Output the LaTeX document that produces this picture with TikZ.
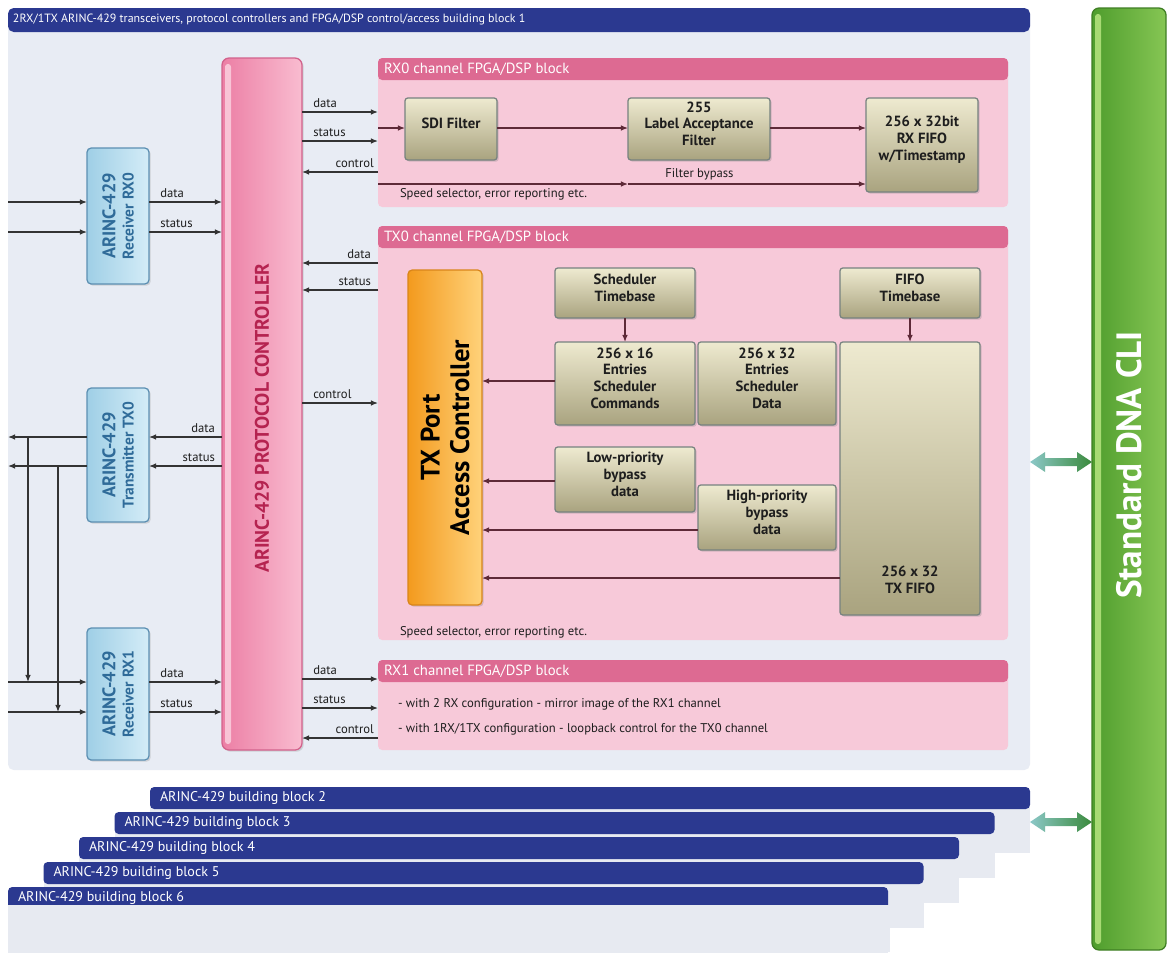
\documentclass[tikz,border=0pt]{standalone}
\usepackage{fontspec}
\setmainfont{PT Sans}
\usetikzlibrary{arrows.meta, positioning, fit, shadows, calc}
\definecolor{navy}{HTML}{2B3990}
\definecolor{paleblue}{HTML}{E8ECF4}
\definecolor{cardcol}{HTML}{E7EAF1}
\definecolor{pcdark}{HTML}{EC7FA5}
\definecolor{pclight}{HTML}{F9BCD0}
\definecolor{pcstrip}{HTML}{F8C4D6}
\definecolor{pcedge}{HTML}{D2628C}
\definecolor{pctext}{HTML}{B52350}
\definecolor{blkpink}{HTML}{F7C9D9}
\definecolor{blkhead}{HTML}{DD6A92}
\definecolor{rxblue}{HTML}{9FCFE6}
\definecolor{rxlight}{HTML}{D4ECF7}
\definecolor{rxedge}{HTML}{5C8FB2}
\definecolor{rxtext}{HTML}{2F6B99}
\definecolor{olivetop}{HTML}{EEEAD0}
\definecolor{olivebot}{HTML}{A9A37F}
\definecolor{oliveedge}{HTML}{76827F}
\definecolor{txorange}{HTML}{F39A1E}
\definecolor{txlight}{HTML}{FFD27A}
\definecolor{txedge}{HTML}{D9851A}
\definecolor{clidark}{HTML}{4F9D2D}
\definecolor{clilight}{HTML}{86C654}
\definecolor{clistrip}{HTML}{A8DA74}
\definecolor{cliedge}{HTML}{3F7F24}
\definecolor{dblteal}{HTML}{8CC8C8}
\definecolor{dblgreen}{HTML}{3A8A3C}
\definecolor{wirecol}{HTML}{333333}
\definecolor{wirered}{HTML}{5E2A38}
\definecolor{darktext}{HTML}{1E1E1E}

\begin{document}
\begin{tikzpicture}[
    x=0.025cm, y=-0.025cm,
    every node/.style={inner sep=0pt, outer sep=0pt},
    lbl/.style={font=\fontsize{9}{10}\selectfont, text=darktext},
    hdr/.style={font=\fontsize{8.5}{10}\selectfont, text=white, anchor=west},
    chanhdr/.style={font=\fontsize{10.5}{12}\selectfont, text=white, anchor=west},
    wire/.style={-{Latex[length=5pt,width=4pt]}, line width=0.9pt, draw=wirecol},
    rwire/.style={wire, draw=wirered},
    chan/.style={fill=blkpink, rounded corners=3pt},
    olive/.style={draw=oliveedge, line width=0.9pt, rounded corners=2pt,
        top color=olivetop, bottom color=olivebot, align=center, text=darktext,
        font=\bfseries\fontsize{10.5}{12}\selectfont,
        drop shadow={shadow xshift=1.2pt, shadow yshift=-1.2pt, opacity=0.3}},
    rxbox/.style={draw=rxedge, line width=0.9pt, rounded corners=3pt,
        left color=rxblue, right color=rxlight,
        drop shadow={shadow xshift=1.2pt, shadow yshift=-1.2pt, opacity=0.25}},
    rxtxt/.style={rotate=90, align=center, text=rxtext, font=\bfseries\fontsize{11}{13}\selectfont},
    bbtext/.style={font=\fontsize{10}{12}\selectfont, text=white, anchor=west},
    link/.style={left color=dblteal, right color=dblgreen}
]
\useasboundingbox[fill=white] (0,0) rectangle (1170,954);

% building blocks 2..6 behind
\foreach \n in {2,...,6}{
  \pgfmathsetmacro\dx{(\n-2)*35.5}
  \pgfmathsetmacro\dy{(\n-2)*25}
  \fill[cardcol] (150-\dx,805+\dy) rectangle (1030-\dx,853+\dy);
  \node[fit={(150-\dx,787+\dy)(1030-\dx,809+\dy)}, fill=navy, rounded corners=3pt] (bb\n) {};
  \node[bbtext] at ([xshift=0.25cm]bb\n.west) {ARINC-429 building block \n};
}
\fill[cardcol] (8,905) rectangle (890,952);

% building block 1
\node[fit={(8,8)(1030,770)}, fill=paleblue, rounded corners=4pt] (blk1) {};
\fill[navy, rounded corners=4pt] (8,8) rectangle (1030,32);
\node[hdr] at (13,20) {2RX/1TX ARINC-429 transceivers, protocol controllers and FPGA/DSP control/access building block 1};

% protocol controller
\node[fit={(222,58)(302,750)}, draw=pcedge, line width=0.9pt, rounded corners=5pt,
      left color=pcdark, right color=pclight,
      drop shadow={shadow xshift=1.2pt, shadow yshift=-1.2pt, opacity=0.25}] (pc) {};
\fill[pcstrip, rounded corners=2pt] (225,64) rectangle (231,744);
\node[rotate=90, text=pctext, font=\bfseries\fontsize{14}{16}\selectfont] at (262,418) {ARINC-429 PROTOCOL CONTROLLER};

% transceivers
\node[rxbox, fit={(87,148)(149,284)}] (rxa) {};
\node[rxtxt] at (rxa.center) {\fontsize{13}{14}\selectfont ARINC-429\\Receiver RX0};
\node[rxbox, fit={(87,388)(149,522)}] (txa) {};
\node[rxtxt] at (txa.center) {\fontsize{13}{14}\selectfont ARINC-429\\Transmitter TX0};
\node[rxbox, fit={(87,628)(149,760)}] (rxb) {};
\node[rxtxt] at (rxb.center) {\fontsize{13}{14}\selectfont ARINC-429\\Receiver RX1};

\coordinate (ina) at (8,202);
\coordinate (inb) at (8,232);
\coordinate (outa) at (8,437);
\coordinate (outb) at (8,466);
\coordinate (inc) at (8,682);
\coordinate (ind) at (8,712);
\coordinate (tapa) at (28,437);
\coordinate (tapb) at (58,466);

\draw[wire] (ina) -- (rxa.west |- ina);
\draw[wire] (inb) -- (rxa.west |- inb);
\draw[wire] (rxa.east |- ina) node[lbl, above right=3pt and 8pt] {data} -- (pc.west |- ina);
\draw[wire] (rxa.east |- inb) node[lbl, above right=3pt and 8pt] {status} -- (pc.west |- inb);

\draw[wire] (pc.west |- outa) node[lbl, above left=3pt and 5pt] {data} -- (txa.east |- outa);
\draw[wire] (pc.west |- outb) node[lbl, above left=3pt and 5pt] {status} -- (txa.east |- outb);
\draw[wire] (txa.west |- outa) -- (outa);
\draw[wire] (txa.west |- outb) -- (outb);
\draw[wire] (tapa) -- (tapa |- inc);
\draw[wire] (tapb) -- (tapb |- ind);

\draw[wire] (inc) -- (rxb.west |- inc);
\draw[wire] (ind) -- (rxb.west |- ind);
\draw[wire] (rxb.east |- inc) node[lbl, above right=3pt and 8pt] {data} -- (pc.west |- inc);
\draw[wire] (rxb.east |- ind) node[lbl, above right=3pt and 8pt] {status} -- (pc.west |- ind);

% RX0 channel block
\node[chan, fit={(378,58)(1008,207)}] (rxzero) {};
\fill[blkhead, rounded corners=3pt] (378,58) rectangle (1008,80);
\node[chanhdr] at (384,69) {RX0 channel FPGA/DSP block};
\node[olive, fit={(405,98)(497,160)}] (sdi) {SDI Filter};
\node[olive, fit={(628,98)(770,160)}] (laf) {255\\Label Acceptance\\Filter};
\node[olive, fit={(866,98)(978,192)}] (rxfifo) {256 x 32bit\\RX FIFO\\w/Timestamp};

\draw[wire] (pc.east |- 0,112) node[lbl, above right=3pt and 8pt] {data} -- (rxzero.west |- 0,112);
\draw[wire] (pc.east |- 0,141) node[lbl, above right=3pt and 8pt] {status} -- (rxzero.west |- 0,141);
\draw[wire] (rxzero.west |- 0,172) node[lbl, above left=3pt and 3pt] {control} -- (pc.east |- 0,172);
\draw[rwire] (rxzero.west |- 0,128) -- (sdi.west |- 0,128);
\draw[rwire] (sdi.east |- 0,128) -- (laf.west |- 0,128);
\draw[rwire] (laf.east |- 0,128) -- (rxfifo.west |- 0,128);
\draw[rwire] (rxzero.west |- 0,184) -- (laf.west |- 0,184);
\draw[rwire] (laf.west |- 0,184) -- node[lbl, above=3pt, pos=0.3] {Filter bypass} (rxfifo.west |- 0,184);
\node[lbl, anchor=north west] at (400,188) {Speed selector, error reporting etc.};

% TX0 channel block
\node[chan, fit={(378,226)(1008,640)}] (txzero) {};
\fill[blkhead, rounded corners=3pt] (378,226) rectangle (1008,248);
\node[chanhdr] at (384,237) {TX0 channel FPGA/DSP block};
\node[fit={(408,270)(482,605)}, draw=txedge, line width=0.9pt, rounded corners=3pt,
      left color=txorange, right color=txlight,
      drop shadow={shadow xshift=1.2pt, shadow yshift=-1.2pt, opacity=0.3}] (txpac) {};
\node[rotate=90, align=center, text=black, font=\bfseries\fontsize{19}{21}\selectfont] at (txpac.center) {TX Port\\Access Controller};
\node[olive, fit={(555,268)(695,318)}] (schtb) {Scheduler\\Timebase};
\node[olive, fit={(840,268)(980,318)}] (fifotb) {FIFO\\Timebase};
\node[olive, fit={(555,342)(695,425)}] (schcmd) {256 x 16\\Entries\\Scheduler\\Commands};
\node[olive, fit={(698,342)(836,425)}] (schdat) {256 x 32\\Entries\\Scheduler\\Data};
\node[olive, fit={(840,342)(980,615)}] (txfifo) {};
\node[align=center, text=darktext, font=\bfseries\fontsize{10.5}{12}\selectfont] at (910,580) {256 x 32\\TX FIFO};
\node[olive, fit={(555,447)(695,512)}] (lowp) {Low-priority\\bypass\\data};
\node[olive, fit={(698,485)(836,550)}] (highp) {High-priority\\bypass\\data};

\draw[wire] (txzero.west |- 0,263) node[lbl, above left=3pt and 5pt] {data} -- (pc.east |- 0,263);
\draw[wire] (txzero.west |- 0,290) node[lbl, above left=3pt and 5pt] {status} -- (pc.east |- 0,290);
\draw[wire] (pc.east |- 0,403) node[lbl, above right=3pt and 8pt] {control} -- (txzero.west |- 0,403);
\draw[rwire] (schtb) -- (schcmd);
\draw[rwire] (fifotb) -- (txfifo.north -| fifotb);
\draw[rwire] (schcmd.west |- 0,381) -- (txpac.east |- 0,381);
\draw[rwire] (lowp.west |- 0,481) -- (txpac.east |- 0,481);
\draw[rwire] (highp.west |- 0,530) -- (txpac.east |- 0,530);
\draw[rwire] (txfifo.west |- 0,578) -- (txpac.east |- 0,578);
\node[lbl, anchor=west] at (400,632) {Speed selector, error reporting etc.};

% RX1 channel block
\node[chan, fit={(378,660)(1008,750)}] (rxone) {};
\fill[blkhead, rounded corners=3pt] (378,660) rectangle (1008,682);
\node[chanhdr] at (384,671) {RX1 channel FPGA/DSP block};
\node[lbl, anchor=west] at (398,704) {- with 2 RX configuration - mirror image of the RX1 channel};
\node[lbl, anchor=west] at (398,729) {- with 1RX/1TX configuration - loopback control for the TX0 channel};
\draw[wire] (pc.east |- 0,679) node[lbl, above right=3pt and 8pt] {data} -- (rxone.west |- 0,679);
\draw[wire] (pc.east |- 0,708) node[lbl, above right=3pt and 8pt] {status} -- (rxone.west |- 0,708);
\draw[wire] (rxone.west |- 0,738) node[lbl, above left=3pt and 3pt] {control} -- (pc.east |- 0,738);

% Standard DNA CLI
\node[fit={(1092,8)(1166,950)}, draw=cliedge, line width=0.9pt, rounded corners=5pt,
      left color=clidark, right color=clilight] (cli) {};
\fill[clistrip, rounded corners=2pt] (1095,14) rectangle (1101,944);
\node[rotate=90, text=white, font=\bfseries\fontsize{25}{28}\selectfont] at (1129,465) {Standard DNA CLI};

% double arrows to the CLI
\foreach \yy/\nm in {462/lka, 822/lkb}{
  \coordinate (\nm l) at (blk1.east |- 0,\yy);
  \coordinate (\nm r) at (cli.west |- 0,\yy);
  \path[link] (\nm l) -- ++(15,-10) -- ++(0,6) -- ($(\nm r)+(-15,-4)$) -- ++(0,-6) -- (\nm r)
      -- ++(-15,10) -- ++(0,-6) -- ($(\nm l)+(15,4)$) -- ++(0,6) -- cycle;
}
\end{tikzpicture}
\end{document}
